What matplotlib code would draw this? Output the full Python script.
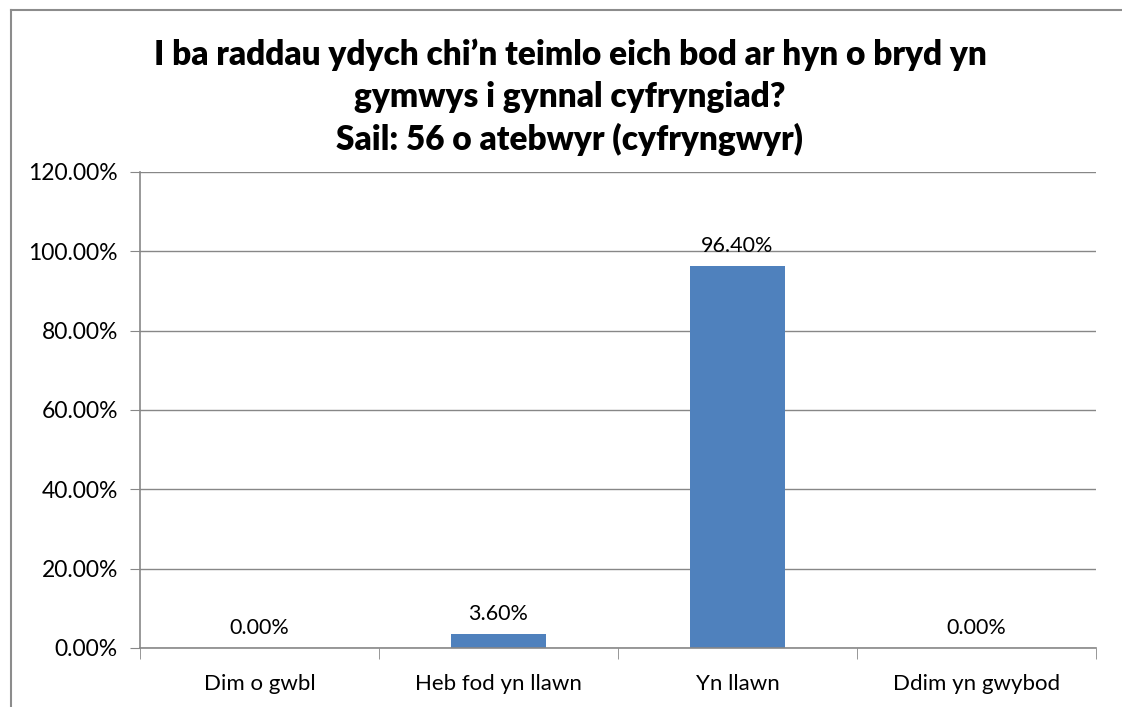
import matplotlib
matplotlib.use("Agg")
import matplotlib.pyplot as plt
from matplotlib.ticker import FuncFormatter, FixedLocator

plt.rcParams['font.family'] = ['Lato', 'DejaVu Sans']

# Data
categories = ["Dim o gwbl", "Heb fod yn llawn", "Yn llawn", "Ddim yn gwybod"]
values = [0.0, 3.6, 96.4, 0.0]
title = ("I ba raddau ydych chi\u2019n teimlo eich bod ar hyn o bryd yn\n"
         "gymwys i gynnal cyfryngiad?\n"
         "Sail: 56 o atebwyr (cyfryngwyr)")

W, H = 1122, 707
fig = plt.figure(figsize=(W / 100, H / 100), dpi=100)

# plot area in pixel coords
left, right, top, bottom = 140, 1096, 172, 648
ax = fig.add_axes([left / W, 1 - bottom / H, (right - left) / W, (bottom - top) / H])

grey = '#878787'
x = range(len(categories))
bars = ax.bar(x, values, width=0.4, color='#4f81bd', zorder=3)

for xi, v in zip(x, values):
    ax.annotate(f"{v:.2f}%", (xi, v), xytext=(0, 7), textcoords='offset points',
                ha='center', va='bottom', fontsize=15.5)

ax.set_xlim(-0.5, len(categories) - 0.5)
ax.set_ylim(0, 120)
ax.set_yticks(range(0, 121, 20))
ax.yaxis.set_major_formatter(FuncFormatter(lambda v, p: f"{v:.2f}%"))
ax.set_xticks(list(x))
ax.set_xticklabels(categories)
ax.xaxis.set_minor_locator(FixedLocator([i - 0.5 for i in range(len(categories) + 1)]))

ax.tick_params(axis='y', length=7, color=grey, labelsize=16.5, pad=9)
ax.tick_params(axis='x', which='major', length=0, labelsize=16, pad=19)
ax.tick_params(axis='x', which='minor', length=8, color=grey)

ax.grid(axis='y', color=grey, linewidth=1, zorder=0)
for s in ['top', 'right']:
    ax.spines[s].set_visible(False)
for s in ['left', 'bottom']:
    ax.spines[s].set_color(grey)
    ax.spines[s].set_linewidth(1.2)
    ax.spines[s].set_zorder(4)

fig.text(570 / W, 1 - 97 / H, title, ha='center', va='center',
         fontsize=24, fontweight='heavy', linespacing=1.38)

# chart frame (left and top edges visible)
fig.add_artist(plt.Line2D([11 / W, 11 / W], [0, 1 - 10 / H], transform=fig.transFigure,
                          color='#8c8c8c', linewidth=1.5))
fig.add_artist(plt.Line2D([11 / W, 1], [1 - 10 / H, 1 - 10 / H], transform=fig.transFigure,
                          color='#8c8c8c', linewidth=1.5))

fig.savefig("out.png", dpi=100)
